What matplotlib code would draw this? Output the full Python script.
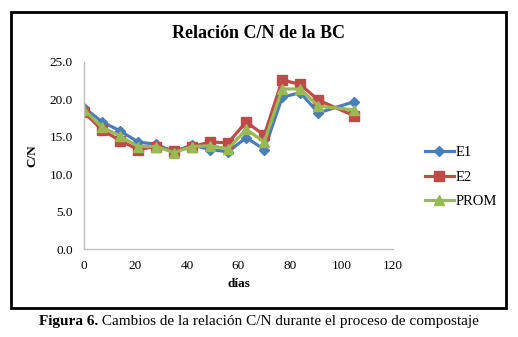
import matplotlib
matplotlib.use("Agg")
import matplotlib.pyplot as plt
from matplotlib.patches import Rectangle

plt.rcParams['font.family'] = ['Liberation Serif', 'DejaVu Serif']

# days of sampling
dias = [0, 7, 14, 21, 28, 35, 42, 49, 56, 63, 70, 77, 84, 91, 105]

# C/N values
e1 = [18.9, 17.0, 15.8, 14.3, 14.0, 13.0, 13.9, 13.3, 13.0, 14.9, 13.3, 20.3, 20.9, 18.2, 19.7]
e2 = [18.3, 15.9, 14.5, 13.3, 13.7, 13.1, 13.7, 14.3, 14.2, 17.0, 15.2, 22.6, 22.0, 19.9, 17.8]
prom = [18.6, 16.3, 15.1, 13.7, 13.7, 12.9, 13.7, 13.8, 13.4, 16.0, 14.3, 21.4, 21.4, 19.1, 18.6]

yticks = [0, 5, 10, 15, 20, 25]
xticks = [0, 20, 40, 60, 80, 100, 120]

W, H = 518, 337
fig = plt.figure(figsize=(W / 100, H / 100), dpi=100)
ax = fig.add_axes([84 / W, 1 - 249 / H, (393 - 84) / W, (249 - 62) / H])

ax.plot(dias, e1, color='#4A7EBB', marker='D', markersize=5.5, lw=2.3, label='E1')
ax.plot(dias, e2, color='#BE4B48', marker='s', markersize=7, lw=2.3, label='E2')
ax.plot(dias, prom, color='#98B954', marker='^', markersize=7.5, lw=2.3, label='PROM')

ax.set_xlim(0, 120)
ax.set_ylim(0, 25)
ax.set_xticks(xticks)
ax.set_yticks(yticks)
ax.set_yticklabels(['%.1f' % v for v in yticks])
ax.tick_params(length=0, labelsize=9.5, pad=8)
for s in ['top', 'right']:
    ax.spines[s].set_visible(False)
for s in ['left', 'bottom']:
    ax.spines[s].set_color('#bfbfbf')
    ax.spines[s].set_linewidth(1)

ax.set_xlabel('días', fontsize=9.5, fontweight='bold', labelpad=4)
ax.set_ylabel('C/N', fontsize=9.5, fontweight='bold', labelpad=8)

fig.text(258 / W, 1 - 33 / H, 'Relación C/N de la BC', ha='center', va='center',
         fontsize=13, fontweight='bold')

ax.legend(loc='center left', bbox_to_anchor=(1.06, 0.385), frameon=False,
          fontsize=10.5, handlelength=2.0, handletextpad=0.1, labelspacing=0.75)

# outer frame
fig.add_artist(Rectangle((11 / W, 1 - 308 / H), 495 / W, 296 / H,
                         transform=fig.transFigure, fill=False,
                         edgecolor='black', lw=2))

# caption: bold part then normal part
fig.canvas.draw()
r = fig.canvas.get_renderer()
t1 = fig.text(0, 1 - 322 / H, 'Figura 6.', fontsize=11, fontweight='bold', va='center')
t2 = fig.text(0, 1 - 322 / H, ' Cambios de la relación C/N durante el proceso de compostaje',
              fontsize=11, va='center')
w1 = t1.get_window_extent(r).width
w2 = t2.get_window_extent(r).width
x0 = (W - (w1 + w2)) / 2
t1.set_x(x0 / W)
t2.set_x((x0 + w1) / W)

fig.savefig('out.png', dpi=100)
